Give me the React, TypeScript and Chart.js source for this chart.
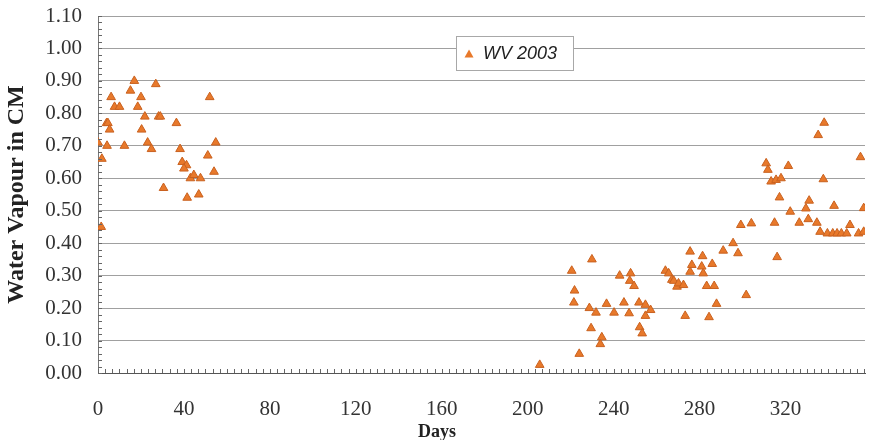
import React, { useEffect, useRef } from "react";
import { Chart, registerables } from "chart.js";

Chart.register(...registerables);

// Day of year (2003)
const days: number[] = [
  0, 1.5, 1.8, 4, 4.6, 5.4, 4.2, 6.1, 7.7, 10, 12.3, 15.1, 16.9, 18.5, 20, 20.3,
  21.8, 23.1, 24.9, 26.9, 28.2, 29, 30.5, 36.5, 38.2, 39.2, 41.2, 40, 41.5, 43,
  44.6, 47.7, 46.9, 51.1, 52, 54, 54.8,
  205.6, 220.5, 221.8, 221.5, 224, 228.7, 229.5, 229.9, 231.8, 233.8, 234.5,
  236.7, 240.2, 242.8, 244.8, 247.2, 247.5, 247.9, 249.5, 251.8, 252.1, 253.3,
  254.8, 254.8, 257.2, 264.1, 265.6, 267.1, 268, 269.5, 270.2, 272.5, 273.3,
  275.6, 275.6, 276.4, 281, 281.4, 281.7, 283.3, 284.4, 285.9, 286.8, 287.9,
  291, 295.6, 297.9, 299.2, 301.7, 304.1, 311, 311.8, 313.3, 314.9, 315.6,
  316.1, 317.2, 317.9, 321.3, 322.2, 326.4, 329.5, 330.6, 331, 334.6, 335.2,
  336.1, 337.6, 338, 339.5, 342, 342.6, 344, 346, 348.5, 350, 354, 354.9,
  356.4, 356.4,
];

// Water vapour (cm)
const vapour: number[] = [
  0.71, 0.45, 0.66, 0.77, 0.77, 0.75, 0.70, 0.85, 0.82, 0.82, 0.70, 0.87, 0.90,
  0.82, 0.85, 0.75, 0.79, 0.71, 0.69, 0.89, 0.79, 0.79, 0.57, 0.77, 0.69, 0.65,
  0.64, 0.63, 0.54, 0.60, 0.61, 0.60, 0.55, 0.67, 0.85, 0.62, 0.71,
  0.025, 0.315, 0.254, 0.217, 0.059, 0.20, 0.138, 0.35, 0.186, 0.089, 0.11,
  0.213, 0.186, 0.30, 0.217, 0.184, 0.284, 0.307, 0.268, 0.217, 0.141, 0.122,
  0.21, 0.176, 0.194, 0.315, 0.307, 0.287, 0.284, 0.266, 0.276, 0.271, 0.176,
  0.374, 0.312, 0.333, 0.328, 0.36, 0.307, 0.268, 0.172, 0.336, 0.268, 0.213,
  0.377, 0.40, 0.369, 0.456, 0.24, 0.461, 0.646, 0.626, 0.59, 0.463, 0.595,
  0.357, 0.541, 0.60, 0.638, 0.497, 0.463, 0.507, 0.474, 0.531, 0.463, 0.733,
  0.435, 0.597, 0.771, 0.43, 0.43, 0.515, 0.43, 0.43, 0.43, 0.456, 0.43, 0.665,
  0.435, 0.508,
];

const seriesLabel = "WV 2003";
const xTitle = "Days";
const yTitle = "Water Vapour in CM";
const xTickStep = 40;
const yTickStep = 0.1;
const xMin = 0;
const xMax = 357;
const yMin = 0;
const yMax = 1.1;

const SERIF = "'Liberation Serif', 'Times New Roman', serif";
const MARKER_FILL = "#E8792B";
const MARKER_EDGE = "#C9611F";

export default function App() {
  const ref = useRef<HTMLCanvasElement>(null);

  useEffect(() => {
    document.body.style.margin = "0";
    const canvas = ref.current;
    if (!canvas) return;

    const minorTicks = {
      id: "minorTicks",
      afterDatasetsDraw(chart: any) {
        const { ctx, chartArea, scales } = chart;
        const xs = scales.x;
        const ys = scales.y;
        ctx.save();
        ctx.strokeStyle = "#666";
        ctx.lineWidth = 1;
        ctx.beginPath();
        const xStep = xTickStep / 12;
        for (let v = xMin; v <= xMax; v += xStep) {
          const px = Math.round(xs.getPixelForValue(v)) + 0.5;
          ctx.moveTo(px, chartArea.bottom);
          ctx.lineTo(px, chartArea.bottom - 4);
        }
        const yStep = yTickStep / 5;
        for (let v = yMin; v <= yMax + 1e-9; v += yStep) {
          const py = Math.round(ys.getPixelForValue(v)) + 0.5;
          ctx.moveTo(chartArea.left, py);
          ctx.lineTo(chartArea.left + 4, py);
        }
        ctx.stroke();
        ctx.restore();
      },
    };

    const insideLegend = {
      id: "insideLegend",
      afterDraw(chart: any) {
        const { ctx, chartArea } = chart;
        const bx = chartArea.left + 358;
        const by = chartArea.top + 20;
        const bw = 117;
        const bh = 34;
        ctx.save();
        ctx.fillStyle = "#ffffff";
        ctx.fillRect(bx, by, bw, bh);
        ctx.strokeStyle = "#a8a8a8";
        ctx.lineWidth = 1;
        ctx.strokeRect(bx + 0.5, by + 0.5, bw, bh);
        const mx = bx + 13;
        const my = by + 18;
        ctx.beginPath();
        ctx.moveTo(mx, my - 4.5);
        ctx.lineTo(mx + 4.5, my + 3.5);
        ctx.lineTo(mx - 4.5, my + 3.5);
        ctx.closePath();
        ctx.fillStyle = MARKER_FILL;
        ctx.fill();
        ctx.fillStyle = "#222";
        ctx.font = "italic 18px 'Liberation Sans', Arial, sans-serif";
        ctx.textBaseline = "middle";
        ctx.textAlign = "left";
        ctx.fillText(seriesLabel, bx + 27, by + 18);
        ctx.restore();
      },
    };

    const xAxisTitle = {
      id: "xAxisTitle",
      afterDraw(chart: any) {
        const { ctx, chartArea } = chart;
        ctx.save();
        ctx.fillStyle = "#222";
        ctx.font = "bold 18px " + SERIF;
        ctx.textAlign = "center";
        ctx.textBaseline = "top";
        ctx.fillText(xTitle, chartArea.left + 339, chartArea.bottom + 50);
        ctx.restore();
      },
    };

    const chart = new Chart(canvas, {
      type: "scatter",
      data: {
        datasets: [
          {
            label: seriesLabel,
            data: days.map((d, i) => ({ x: d, y: vapour[i] })),
            pointStyle: "triangle",
            pointRadius: 5,
            pointHoverRadius: 5,
            backgroundColor: MARKER_FILL,
            borderColor: MARKER_EDGE,
            borderWidth: 1,
          },
        ],
      },
      options: {
        animation: false,
        responsive: false,
        maintainAspectRatio: false,
        layout: { padding: { top: 16, right: 0, left: 0, bottom: 0 } },
        plugins: {
          legend: { display: false },
          tooltip: { enabled: false },
        },
        scales: {
          x: {
            type: "linear",
            min: xMin,
            max: xMax,
            ticks: {
              stepSize: xTickStep,
              autoSkip: false,
              maxRotation: 0,
              padding: 24,
              color: "#333",
              font: { family: SERIF, size: 21 },
            },
            grid: { display: false, drawTicks: false },
            border: { display: true, color: "#555", width: 1 },
            afterBuildTicks: (s: any) => {
              s.ticks = s.ticks.filter(
                (t: any) => Math.abs(t.value % xTickStep) < 1e-6
              );
            },
            afterFit: (s: any) => {
              s.height = 67;
              s.paddingLeft = 0;
              s.paddingRight = 0;
            },
          },
          y: {
            min: yMin,
            max: yMax,
            ticks: {
              stepSize: yTickStep,
              padding: 16,
              color: "#333",
              font: { family: SERIF, size: 21 },
              callback: (v: any) => Number(v).toFixed(2),
            },
            grid: { color: "#a0a0a0", drawTicks: false, lineWidth: 1 },
            border: { display: true, color: "#777", width: 1 },
            title: {
              display: true,
              text: yTitle,
              color: "#222",
              font: { family: SERIF, size: 24, weight: "bold" },
              padding: { top: 2, bottom: 0 },
            },
            afterFit: (s: any) => {
              s.width = 98;
              s.paddingTop = 0;
              s.paddingBottom = 0;
            },
          },
        },
      },
      plugins: [minorTicks, insideLegend, xAxisTitle],
    });

    return () => chart.destroy();
  }, []);

  return (
    <div style={{ position: "absolute", left: 0, top: 0, width: 871, height: 440 }}>
      <canvas ref={ref} width={871} height={440} style={{ display: "block" }} />
    </div>
  );
}
